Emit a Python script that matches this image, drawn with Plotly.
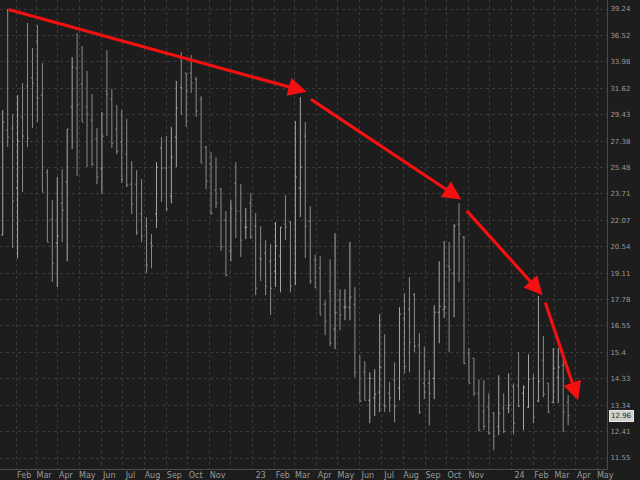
import numpy as np
import pandas as pd
import plotly.graph_objects as go

# weekly bars
week_start = "2022-01-13"

opens = [21.20, 28.21, 28.37, 24.09, 29.24, 31.81, 32.51, 35.96, 31.04, 25.16,
         22.14, 20.74, 23.12, 24.49, 30.05, 33.41, 31.98, 30.05, 29.00, 27.53,
         25.44, 31.38, 30.70, 28.29, 27.31, 26.43, 24.35, 24.35, 22.45, 21.72,
         20.74, 22.45, 26.86, 25.44, 23.57, 27.68, 31.72, 32.96, 32.96, 32.42,
         30.70, 26.94, 25.72, 23.96, 24.02, 22.08, 20.30, 24.42, 22.63, 21.66,
         23.12, 21.72, 19.91, 20.18, 19.74, 19.22, 20.02, 21.84, 21.96, 19.11,
         24.09, 27.76, 22.02, 19.80, 19.37, 17.56, 18.19, 16.41, 17.75, 17.42,
         17.42, 17.56, 13.78, 14.59, 13.52, 13.60, 13.82, 13.34, 13.78, 14.28,
         13.97, 16.91, 17.32, 18.04, 15.70, 14.16, 14.16, 14.35, 17.18, 17.32,
         19.48, 19.11, 21.84, 21.08, 15.37, 15.16, 13.78, 13.12, 13.27, 13.05,
         12.59, 13.23, 13.23, 14.04, 14.08, 13.78, 13.27, 14.35, 13.49, 15.08,
         14.16, 13.45, 14.39, 14.87, 13.45]
highs = [29.80, 39.24, 29.48, 31.04, 32.07, 37.77, 35.28, 37.57, 33.87, 25.37,
         23.31, 24.82, 25.37, 28.29, 34.43, 36.76, 35.48, 33.14, 31.12, 28.37,
         29.64, 35.09, 31.56, 30.21, 29.80, 29.08, 25.93, 25.30, 24.69, 22.26,
         21.26, 25.86, 27.68, 27.76, 28.45, 32.25, 34.90, 32.96, 34.62, 32.60,
         30.96, 27.01, 26.57, 26.21, 24.09, 22.63, 23.31, 25.86, 24.35, 22.82,
         23.76, 22.51, 21.72, 20.91, 20.69, 21.96, 21.66, 23.63, 22.02, 28.92,
         30.87, 28.84, 22.93, 20.08, 20.02, 17.75, 19.85, 21.31, 18.29, 18.29,
         20.80, 18.40, 15.28, 15.04, 14.59, 14.71, 17.09, 16.18, 14.20, 14.99,
         17.42, 18.09, 18.90, 18.09, 16.23, 15.66, 14.67, 17.51, 19.74, 20.86,
         20.80, 21.84, 23.12, 21.14, 15.58, 15.16, 14.31, 14.28, 13.78, 13.09,
         14.47, 13.78, 14.55, 14.16, 15.41, 14.08, 15.32, 14.51, 17.95, 16.10,
         14.16, 15.58, 15.58, 15.20, 13.71]
lows = [21.20, 26.94, 20.46, 19.91, 23.83, 26.94, 28.37, 28.84, 23.83, 20.80,
        18.65, 18.40, 20.80, 19.74, 26.79, 24.89, 28.84, 25.51, 25.58, 24.35,
        23.76, 27.76, 26.86, 26.43, 24.42, 24.15, 22.45, 21.20, 20.80, 19.11,
        19.37, 21.61, 23.19, 22.63, 23.12, 25.51, 29.40, 28.45, 31.21, 29.24,
        25.79, 24.02, 22.39, 22.82, 20.30, 18.95, 19.74, 21.03, 19.97, 20.97,
        20.97, 17.99, 18.70, 17.99, 17.05, 18.40, 18.14, 20.91, 18.14, 18.49,
        22.26, 19.91, 18.55, 18.34, 17.05, 16.14, 15.66, 15.54, 16.36, 16.81,
        16.81, 14.39, 13.45, 13.52, 12.70, 12.95, 13.09, 13.09, 13.09, 12.73,
        13.52, 14.55, 14.59, 15.41, 13.02, 13.56, 12.63, 13.56, 15.79, 16.91,
        15.41, 16.95, 18.65, 14.91, 14.16, 13.67, 12.42, 12.46, 12.32, 11.80,
        12.29, 12.36, 13.05, 12.32, 13.27, 12.46, 13.23, 12.70, 13.45, 13.63,
        13.05, 13.41, 13.41, 12.39, 12.63]
closes = [28.84, 27.68, 23.25, 27.38, 27.76, 27.60, 32.07, 30.79, 23.83, 20.80,
          19.64, 21.14, 22.69, 28.29, 33.50, 30.21, 28.84, 29.48, 25.72, 24.82,
          27.76, 31.12, 27.23, 26.64, 24.69, 24.29, 23.06, 21.37, 21.14, 19.53,
          20.58, 25.51, 25.44, 22.75, 26.21, 29.96, 31.63, 31.38, 32.07, 29.72,
          25.79, 24.55, 22.51, 23.12, 20.52, 19.01, 22.82, 22.63, 20.91, 21.66,
          21.08, 18.34, 19.85, 18.44, 18.34, 20.58, 21.66, 21.66, 18.44, 24.82,
          25.51, 21.72, 18.70, 18.40, 17.05, 16.77, 15.79, 17.18, 17.05, 17.42,
          17.90, 14.59, 13.49, 13.52, 14.35, 13.75, 14.79, 13.30, 13.60, 13.30,
          17.09, 14.83, 15.83, 15.66, 13.09, 13.82, 13.78, 17.18, 17.46, 17.42,
          19.32, 21.72, 21.26, 14.95, 14.16, 13.78, 12.46, 12.59, 12.36, 12.26,
          13.05, 12.42, 13.34, 12.70, 13.30, 14.01, 14.31, 12.91, 14.24, 13.75,
          13.09, 14.75, 14.79, 13.09, 12.96]

last_price = 12.96

price_ticks = [11.55, 12.41, 13.34, 14.33, 15.4, 16.55, 17.78, 19.11, 20.54,
               22.07, 23.71, 25.48, 27.38, 29.43, 31.62, 33.98, 36.52, 39.24]

# red trend arrows drawn on the chart: (tail date, tail price, head date, head price)
arrows = [
    ("2022-01-19", 39.24, "2023-03-18", 31.32),
    ("2023-03-22", 30.76, "2023-10-22", 23.36),
    ("2023-10-28", 22.74, "2024-02-14", 18.00),
    ("2024-02-17", 17.71, "2024-04-04", 13.52),
]

dates = pd.date_range(week_start, periods=len(closes), freq="7D")

# month gridlines; January shows the year, December has no label
month_ticks = pd.date_range("2022-02-01", "2024-05-01", freq="MS")
month_text = []
for d in month_ticks:
    if d.month == 1:
        month_text.append(d.strftime("%y"))
    elif d.month == 12:
        month_text.append("")
    else:
        month_text.append(d.strftime("%b"))

BG = "#1d1d1d"
GRID = "#3a3a3a"
TXT = "#9a9a9a"
RED = "#f21010"

fig = go.Figure(
    go.Ohlc(
        x=dates, open=opens, high=highs, low=lows, close=closes,
        increasing=dict(line=dict(color="#a8a8a8", width=1)),
        decreasing=dict(line=dict(color="#8a8a8a", width=1)),
        tickwidth=0.3,
        hoverinfo="skip",
    )
)

for tx, tp, hx, hp in arrows:
    fig.add_annotation(
        x=hx, y=np.log10(hp), ax=tx, ay=np.log10(tp),
        xref="x", yref="y", axref="x", ayref="y",
        text="", showarrow=True, arrowhead=2, arrowsize=1.15,
        arrowwidth=3.2, arrowcolor=RED, standoff=0, startstandoff=0,
    )

fig.add_annotation(
    x=1, xref="paper", xanchor="left", xshift=2,
    y=np.log10(last_price), yref="y",
    text=f"{last_price:.2f}", showarrow=False,
    font=dict(size=7, color="#2a2a2a", family="DejaVu Sans"),
    bgcolor="#cfcfcf", bordercolor="#e8e8e8", borderwidth=1, borderpad=1,
)

fig.update_layout(
    width=640, height=480,
    paper_bgcolor=BG, plot_bgcolor=BG,
    margin=dict(l=0, r=33, t=0, b=11, autoexpand=False),
    showlegend=False,
    hovermode=False,
    font=dict(family="DejaVu Sans", size=8, color=TXT),
    xaxis=dict(
        type="date",
        range=["2022-01-09 04:00", "2024-05-14 19:00"],
        rangeslider=dict(visible=False),
        tickvals=month_ticks, ticktext=month_text,
        ticks="", ticklabelshift=8, ticklabelstandoff=-2,
        showgrid=True, gridcolor=GRID, griddash="dot", gridwidth=1,
        showline=True, linecolor="#4a4a4a", linewidth=1,
        zeroline=False,
        tickfont=dict(size=8, color=TXT),
    ),
    yaxis=dict(
        type="log", side="right",
        range=[1.0496, 1.6044],
        tickvals=price_ticks, ticktext=[str(v) for v in price_ticks],
        ticks="", ticklabelstandoff=1,
        showgrid=True, gridcolor=GRID, griddash="dot", gridwidth=1,
        showline=True, linecolor="#4a4a4a", linewidth=1,
        zeroline=False,
        tickfont=dict(size=7, color=TXT),
    ),
)

# the page body has a default 8px margin; drop it so the chart sits at the window corner
fig.write_html(
    "out.html",
    config={"displayModeBar": False},
    post_script="document.body.style.margin='0px';document.body.style.background='#1d1d1d';",
)
